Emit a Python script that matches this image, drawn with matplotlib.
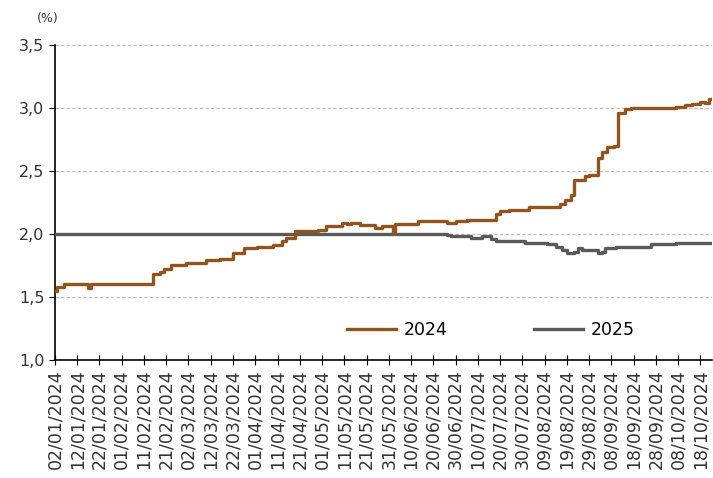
import matplotlib
matplotlib.use("Agg")
import matplotlib.pyplot as plt
import matplotlib.dates as mdates
import pandas as pd

# step points (date, %)
dates_2024 = ["2024-01-02", "2024-01-03", "2024-01-06", "2024-01-17", "2024-01-18",
              "2024-02-15", "2024-02-18", "2024-02-20", "2024-02-23", "2024-03-01",
              "2024-03-10", "2024-03-16", "2024-03-22", "2024-03-27", "2024-04-02",
              "2024-04-09", "2024-04-13", "2024-04-15", "2024-04-19", "2024-04-29",
              "2024-05-03", "2024-05-10", "2024-05-12", "2024-05-14", "2024-05-18",
              "2024-05-25", "2024-05-28", "2024-06-02", "2024-06-03", "2024-06-13",
              "2024-06-26", "2024-06-30", "2024-07-05", "2024-07-18", "2024-07-20",
              "2024-07-24", "2024-08-02", "2024-08-16", "2024-08-18", "2024-08-21",
              "2024-08-22", "2024-08-27", "2024-08-29", "2024-09-02", "2024-09-04",
              "2024-09-06", "2024-09-09", "2024-09-11", "2024-09-14", "2024-09-17",
              "2024-10-07", "2024-10-11", "2024-10-14", "2024-10-18", "2024-10-20",
              "2024-10-22", "2024-10-23"]
values_2024 = [1.55, 1.58, 1.60, 1.57, 1.60,
               1.68, 1.70, 1.72, 1.75, 1.77,
               1.79, 1.80, 1.85, 1.89, 1.90,
               1.91, 1.94, 1.97, 2.02, 2.03,
               2.06, 2.09, 2.08, 2.09, 2.07,
               2.05, 2.06, 2.01, 2.08, 2.10,
               2.09, 2.10, 2.11, 2.16, 2.18,
               2.19, 2.21, 2.24, 2.27, 2.31,
               2.43, 2.46, 2.47, 2.60, 2.65,
               2.69, 2.70, 2.96, 2.99, 3.00,
               3.01, 3.02, 3.03, 3.05, 3.04,
               3.07, 3.07]

dates_2025 = ["2024-01-02", "2024-06-26", "2024-06-28", "2024-07-07", "2024-07-12",
              "2024-07-16", "2024-07-18", "2024-07-31", "2024-08-10", "2024-08-14",
              "2024-08-17", "2024-08-19", "2024-08-22", "2024-08-24", "2024-08-26",
              "2024-09-02", "2024-09-04", "2024-09-05", "2024-09-10", "2024-09-26",
              "2024-10-07", "2024-10-23"]
values_2025 = [2.00, 1.99, 1.98, 1.97, 1.98,
               1.96, 1.94, 1.93, 1.92, 1.90,
               1.87, 1.85, 1.86, 1.89, 1.87,
               1.85, 1.86, 1.89, 1.90, 1.92,
               1.93, 1.93]

x24 = pd.to_datetime(dates_2024)
x25 = pd.to_datetime(dates_2025)
ticks = pd.date_range("2024-01-02", "2024-10-23", freq="10D")

fig = plt.figure(figsize=(7.13, 4.78), dpi=100)
ax = fig.add_axes([0.077, 0.247, 0.921, 0.659])

ax.plot(x24, values_2024, drawstyle="steps-post", color="#93531c", lw=2.4,
        label="2024", zorder=4)
ax.plot(x25, values_2025, drawstyle="steps-post", color="#5a5a5a", lw=2.4,
        label="2025", zorder=3)

ax.set_ylim(1.0, 3.5)
ax.set_yticks([1.0, 1.5, 2.0, 2.5, 3.0, 3.5])
ax.set_yticklabels([f"{v:.1f}".replace(".", ",") for v in ax.get_yticks()],
                   fontsize=11.5, color="#333333")
ax.set_xlim(x24[0], x24[-1])
ax.set_xticks(ticks)
ax.xaxis.set_major_formatter(mdates.DateFormatter("%d/%m/%Y"))
ax.tick_params(axis="x", rotation=90, labelsize=12.5, direction="inout", length=7,
               labelcolor="#333333")
ax.tick_params(axis="y", length=4)

ax.grid(axis="y", color="#bbbbbb", ls=(0, (3, 2)), lw=0.8)
ax.set_axisbelow(True)
for s in ["top", "right"]:
    ax.spines[s].set_visible(False)
ax.spines["left"].set_linewidth(1.2)
ax.spines["bottom"].set_linewidth(1.2)

ax.legend(loc="center", bbox_to_anchor=(0.664, 0.095), ncol=2, frameon=False,
          fontsize=12.5, handlelength=2.8, columnspacing=5.0, handletextpad=0.45)

fig.text(0.052, 0.955, "(%)", fontsize=9, color="#333333")

fig.savefig("out.png", dpi=100)
